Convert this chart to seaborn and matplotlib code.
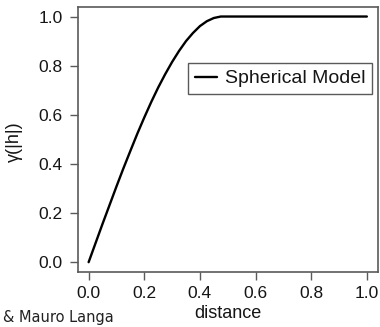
import matplotlib
matplotlib.use("Agg")
import matplotlib.pyplot as plt
import seaborn as sns
import pandas as pd

# values
distance = [0.0, 0.025, 0.05, 0.075, 0.1, 0.125, 0.15, 0.175, 0.2, 0.225, 0.25,
            0.275, 0.3, 0.325, 0.35, 0.375, 0.4, 0.425, 0.45, 0.475, 0.48,
            0.5, 0.6, 0.7, 0.8, 0.9, 1.0]
gamma = [0.0, 0.078, 0.156, 0.232, 0.308, 0.382, 0.453, 0.523, 0.589, 0.652, 0.711,
         0.765, 0.815, 0.860, 0.900, 0.933, 0.961, 0.981, 0.994, 1.0, 1.0,
         1.0, 1.0, 1.0, 1.0, 1.0, 1.0]
ticks = [0.0, 0.2, 0.4, 0.6, 0.8, 1.0]
tick_labels = ["0.0", "0.2", "0.4", "0.6", "0.8", "1.0"]
series_name = "Spherical Model"

sns.set_style("white")
plt.rcParams['font.family'] = ['Liberation Sans', 'DejaVu Sans']

W, H = 380, 327
fig = plt.figure(figsize=(W / 100, H / 100), dpi=100)
ax = fig.add_axes([77.5 / W, (H - 272) / H, 300.5 / W, 265.3 / H])

df = pd.DataFrame({"distance": distance, "gamma": gamma})
sns.lineplot(data=df, x="distance", y="gamma", ax=ax, color="black",
             linewidth=1.7, label=series_name)

ax.set_xlim(-0.04, 1.04)
ax.set_ylim(-0.04, 1.04)
ax.set_xticks(ticks)
ax.set_xticklabels(tick_labels)
ax.set_yticks(ticks)
ax.set_yticklabels(tick_labels)

txt = "#151515"
frame = "#5a5a5a"
for s in ax.spines.values():
    s.set_color(frame)
    s.set_linewidth(1.2)
    s.set_visible(True)
ax.tick_params(axis="both", direction="out", length=5.5, width=1.0, color=frame,
               labelsize=12.5, labelcolor=txt, bottom=True, left=True)
ax.tick_params(axis="y", pad=5)
ax.tick_params(axis="x", pad=4.5)
ax.grid(False)

ax.set_xlabel("distance", fontsize=13, color=txt, labelpad=3)
ax.set_ylabel("γ(|h|)", fontsize=13, color=txt)
ax.yaxis.set_label_coords((23 - 77.5) / 300.5, (272 - 142) / 265.3)

leg = ax.legend(loc="upper right", bbox_to_anchor=(372 / W, 1 - 63 / H),
                bbox_transform=fig.transFigure, borderaxespad=0, fontsize=14,
                frameon=True, fancybox=False, handlelength=1.15,
                handletextpad=0.4, borderpad=0.35)
fr = leg.get_frame()
fr.set_edgecolor(frame)
fr.set_linewidth(1.0)
fr.set_alpha(1)
for t in leg.get_texts():
    t.set_color(txt)

fig.text(3 / W, 1 - 322 / H, "& Mauro Langa", fontsize=10.5, color="#222222",
         family=["DejaVu Sans"], ha="left", va="baseline")

fig.savefig("out.png", dpi=100)
